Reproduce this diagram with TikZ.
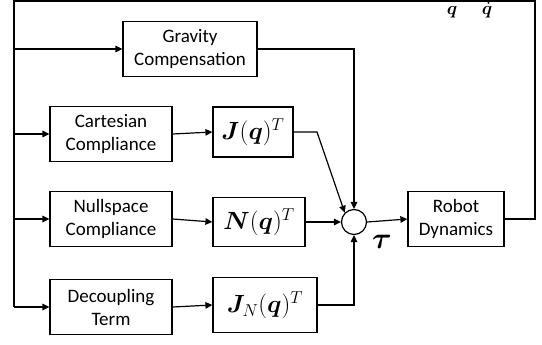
\documentclass[tikz,border=0pt]{standalone}
\usepackage{amsmath}
\usepackage{bm}
\usepackage{fontspec}
\setmainfont{Carlito}
\usetikzlibrary{arrows.meta}
\tikzset{
  blk/.style={draw, line width=1.2pt, inner sep=0pt, align=center,
    font=\fontsize{19}{23}\selectfont},
  mblk/.style={draw, line width=1.2pt, inner sep=0pt,
    font=\fontsize{24}{28}\selectfont},
  lbl/.style={inner sep=0pt},
  wire/.style={line width=1.2pt},
  arr/.style={line width=1.2pt, -{Triangle[length=7pt,width=6.5pt]}},
}
\begin{document}
\begin{tikzpicture}[x=1pt,y=-1pt]
\useasboundingbox (0,0) rectangle (542,345);
% boxes
\node[blk, minimum width=134pt, minimum height=55pt] (gc) at (190,49) {Gravity\\Compensation};
\node[blk, minimum width=122pt, minimum height=55pt] (cc) at (111,134) {Cartesian\\Compliance};
\node[blk, minimum width=122pt, minimum height=55pt] (nc) at (111,219) {Nullspace\\Compliance};
\node[blk, minimum width=122pt, minimum height=55pt] (dt) at (111,307) {Decoupling\\Term};
\node[mblk, minimum width=80pt, minimum height=50pt] (jb) at (253,132) {$\bm{J}(\bm{q})^T$};
\node[mblk, minimum width=92pt, minimum height=49pt] (nb) at (259,222) {$\bm{N}(\bm{q})^T$};
\node[mblk, minimum width=104pt, minimum height=55pt] (jn) at (265,305) {$\bm{J}_N(\bm{q})^T$};
\node[draw, circle, line width=1.2pt, minimum size=25pt, inner sep=0pt] (sum) at (354,222) {};
\node[blk, minimum width=96pt, minimum height=55pt] (rd) at (456,219) {Robot\\Dynamics};
% labels
\node[lbl, scale=3] (tau) at (382,242) {$\bm{\tau}$};
\node[lbl, scale=1.8, anchor=base] (ql) at (452,15) {$\bm{q}$};
\node[lbl, scale=1.8, anchor=base] (qd) at (487,15) {$\dot{\bm{q}}$};
% bus coordinates
\coordinate (tr) at (535,1);
\coordinate (tl) at (14,1);
\coordinate (bl) at (14,307);
\coordinate (b1) at (14,49);
\coordinate (b2) at (14,134);
\coordinate (b3) at (14,219);
\coordinate (jk) at (317,132);
% feedback loop
\draw[wire] (rd.east) -| (tr) -- (tl) -- (bl);
\draw[arr] (b1) -- (gc.west);
\draw[arr] (b2) -- (cc.west);
\draw[arr] (b3) -- (nc.west);
\draw[arr] (bl) -- (dt.west);
% forward paths
\draw[arr] (cc.east) -- (jb.west);
\draw[arr] (nc.east) -- (nb.west);
\draw[arr] (dt.east) -- (jn.west);
\draw[arr] (gc.east) -| (sum.north);
\draw[arr] (jb.east) -- (jk) -- (sum.135);
\draw[arr] (nb.east) -- (sum.west);
\draw[arr] (jn.east) -| (sum.south);
\draw[arr] (sum.east) -- (rd.west);
\end{tikzpicture}
\end{document}
